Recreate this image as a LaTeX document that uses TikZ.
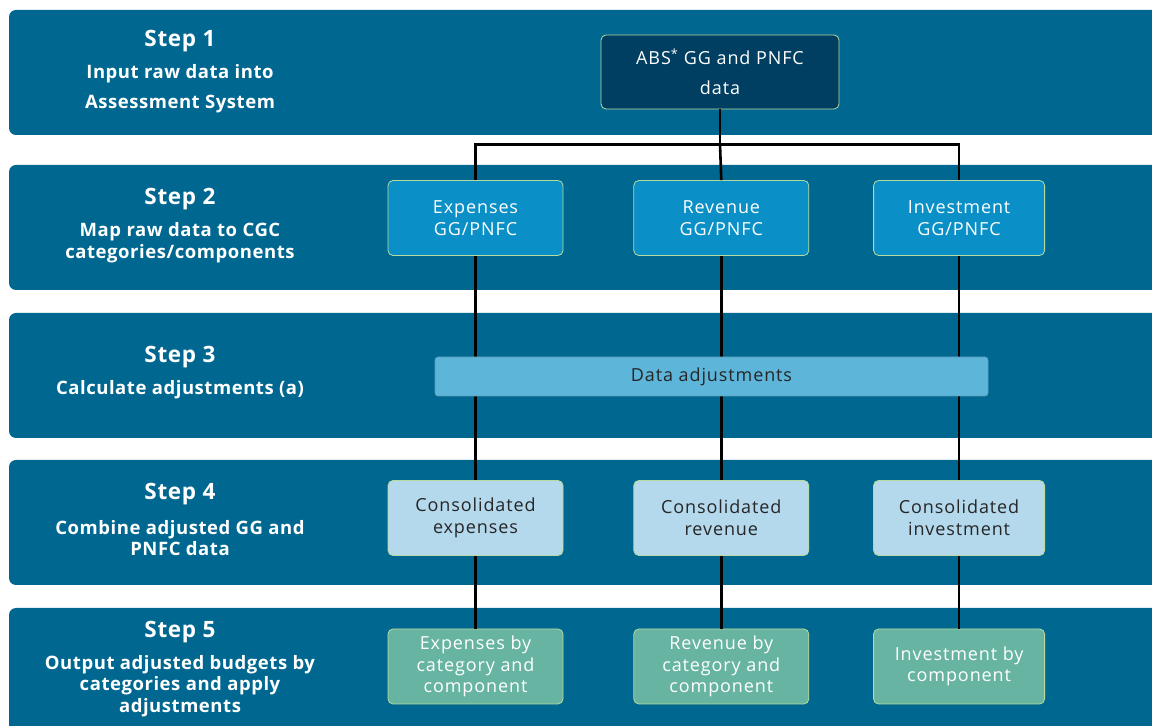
\documentclass[tikz,border=0pt]{standalone}
\usepackage{fontspec}
\setmainfont{Open Sans}
\newfontfamily\boxfont[LetterSpace=5]{Open Sans}
\newfontfamily\stepfont[LetterSpace=3]{Open Sans}
\usetikzlibrary{positioning}

\definecolor{bandblue}{HTML}{006890}
\definecolor{absblue}{HTML}{003F62}
\definecolor{mapblue}{HTML}{0A90C6}
\definecolor{adjblue}{HTML}{5DB5DA}
\definecolor{conblue}{HTML}{B4D8EC}
\definecolor{outgreen}{HTML}{68B4A2}
\definecolor{boxedge}{HTML}{B8DA9E}

\tikzset{
  band/.style={fill=bandblue, rounded corners=7pt},
  stepttl/.style={text=white, font=\stepfont\bfseries\fontsize{22.5}{26}\selectfont},
  stepdesc/.style={text=white, align=center, font=\stepfont\bfseries\fontsize{18.5}{21.5}\selectfont},
  box/.style={draw=boxedge, line width=0.8pt, rounded corners=5pt,
    minimum width=175pt, minimum height=75pt, inner sep=0pt, align=center,
    font=\boxfont\fontsize{18}{21.5}\selectfont},
  link/.style={draw=black, line width=2.6pt}
}

\begin{document}
\begin{tikzpicture}[x=1pt,y=1pt]
  \useasboundingbox (0,0) rectangle (1152,726);
  % bands
  \foreach \ytop in {716,561,413,266,118}
    \fill[band] (9,\ytop) rectangle (1165,\ytop-125);

  % step labels
  \node[stepttl] (t1) at (180,685) {Step 1};
  \node[stepdesc, font=\stepfont\bfseries\fontsize{18.5}{30}\selectfont] (d1) at (180,637) {Input raw data into\\Assessment System};
  \node[stepttl] (t2) at (180,527) {Step 2};
  \node[stepdesc] (d2) at (180,483.5) {Map raw data to CGC\\categories/components};
  \node[stepttl] (t3) at (180,369) {Step 3};
  \node[stepdesc] (d3) at (180,336) {Calculate adjustments (a)};
  \node[stepttl] (t4) at (180,232) {Step 4};
  \node[stepdesc] (d4) at (180,188) {Combine adjusted GG and\\PNFC data};
  \node[stepttl] (t5) at (180,94) {Step 5};
  \node[stepdesc] (d5) at (180,40) {Output adjusted budgets by\\categories and apply\\adjustments};

  % boxes
  \node[box, fill=absblue, text=white, minimum width=238pt, minimum height=74pt,
    font=\boxfont\fontsize{18}{30}\selectfont] (abs) at (720,654) {ABS\textsuperscript{*} GG and PNFC\\data};

  \node[box, fill=mapblue, text=white] (exp2) at (475.5,508) {Expenses\\GG/PNFC};
  \node[box, fill=mapblue, text=white] (rev2) [right=70pt of exp2] {Revenue\\GG/PNFC};
  \node[box, fill=mapblue, text=white, minimum width=171pt] (inv2) [right=64pt of rev2] {Investment\\GG/PNFC};

  \node[box, fill=conblue, text=black!85] (exp4) at (475.5,208) {Consolidated\\expenses};
  \node[box, fill=conblue, text=black!85] (rev4) [right=70pt of exp4] {Consolidated\\revenue};
  \node[box, fill=conblue, text=black!85, minimum width=171pt] (inv4) [right=64pt of rev4] {Consolidated\\investment};

  \node[box, fill=outgreen, text=white] (exp5) at (475.5,59.5) {Expenses by\\category and\\component};
  \node[box, fill=outgreen, text=white] (rev5) [right=70pt of exp5] {Revenue by\\category and\\component};
  \node[box, fill=outgreen, text=white, minimum width=171pt] (inv5) [right=64pt of rev5] {Investment by\\component};

  % connectors
  \coordinate[below=35pt of abs] (split);
  \draw[link] (abs.south) -- (split);
  \draw[link] (split) -| (exp2.north);
  \draw[link] (split) -| (inv2.north);
  \draw[link] (split) -- (rev2.north);
  \foreach \c in {exp,rev,inv} {
    \draw[link] (\c2.south) -- (\c4.north);
    \draw[link] (\c4.south) -- (\c5.north);
  }

  \node[draw=adjblue!80!black!90, fill=adjblue, line width=0.6pt, rounded corners=3pt,
    minimum width=553pt, minimum height=39pt, text=black!85,
    font=\boxfont\fontsize{18}{21.5}\selectfont] (adj) at (711.5,349.5) {Data adjustments};
\end{tikzpicture}
\end{document}
